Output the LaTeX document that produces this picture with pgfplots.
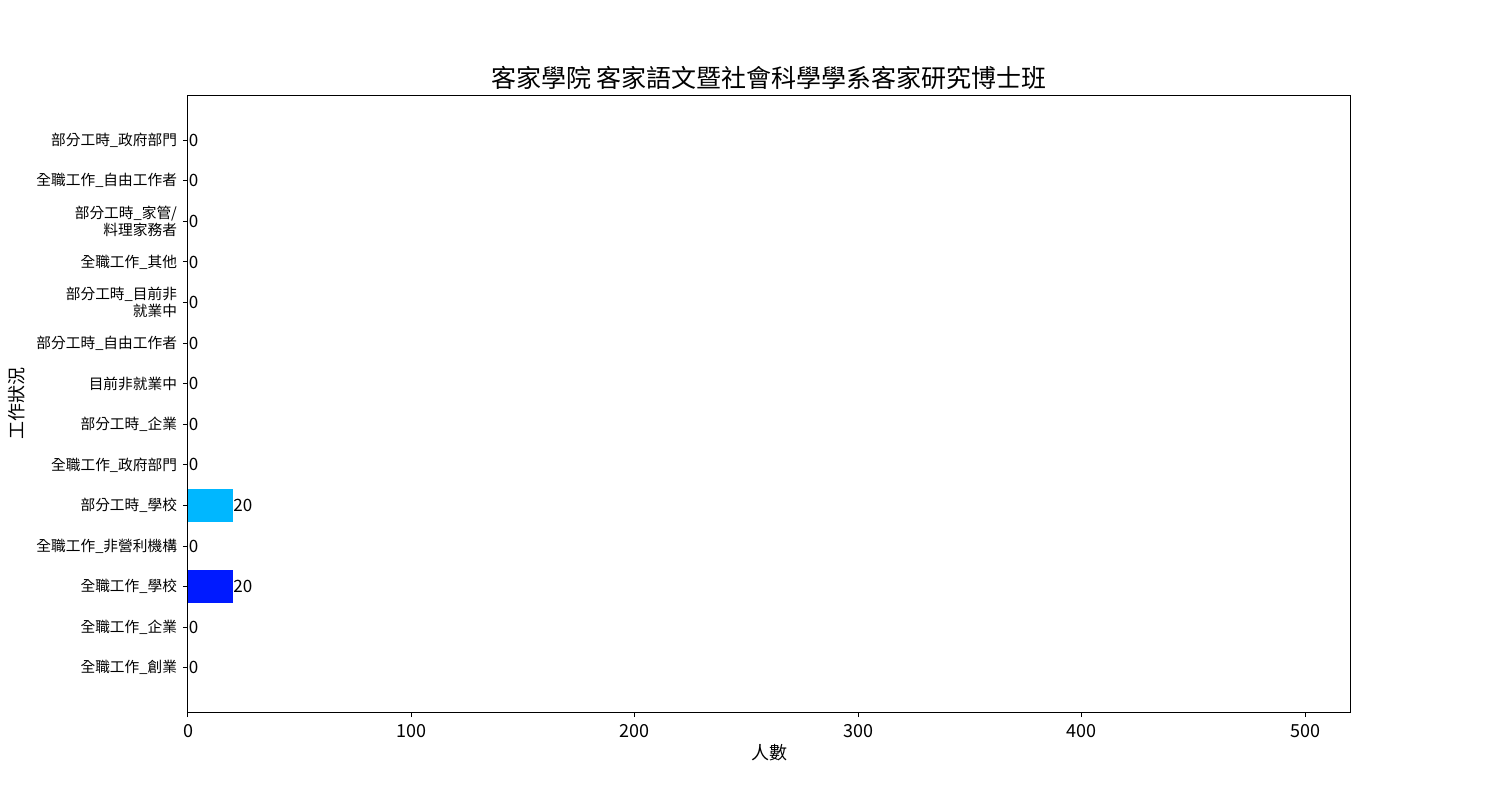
\documentclass[border=0pt]{standalone}
\usepackage{fontspec}
\setmainfont{Noto Sans CJK TC}
\usepackage{pgfplots}
\pgfplotsset{compat=1.18}
\definecolor{darkb}{RGB}{0,26,255}
\definecolor{lightb}{RGB}{0,183,255}
\begin{document}
\begin{tikzpicture}
\useasboundingbox (-94bp,-44bp) rectangle (656bp,356bp);
\begin{axis}[
  scale only axis, width=581bp, height=308bp,
  xbar, bar width=0.8, bar shift=0pt,
  xmin=0, xmax=520, ymin=-1.09, ymax=13+1.09,
  xtick={0,100,200,300,400,500},
  ytick={0,...,13},
  yticklabels={
    全職工作\_創業,
    全職工作\_企業,
    全職工作\_學校,
    全職工作\_非營利機構,
    部分工時\_學校,
    全職工作\_政府部門,
    部分工時\_企業,
    目前非就業中,
    部分工時\_自由工作者,
    {部分工時\_目前非\\就業中},
    全職工作\_其他,
    {部分工時\_家管/\\料理家務者},
    全職工作\_自由工作者,
    部分工時\_政府部門},
  yticklabel style={align=right, font=\fontsize{7.35bp}{8.4bp}\selectfont, inner sep=0pt, xshift=-2.8bp},
  xticklabel style={font=\fontsize{9bp}{10bp}\selectfont},
  /pgf/number format/assume math mode=true,
  tick align=outside, xtick pos=bottom, ytick pos=left,
  major tick length=2.5bp,
  axis line style={line width=0.5bp},
  tick style={line width=0.5bp, black},
  title={客家學院 客家語文暨社會科學學系客家研究博士班},
  title style={at={(axis description cs:0.5,1)}, anchor=center, yshift=3bp, font=\fontsize{12.5bp}{13bp}\selectfont},
  xlabel={人數},
  xlabel style={at={(axis description cs:0.5,0)}, anchor=center, yshift=-20.5bp, font=\fontsize{9bp}{10bp}\selectfont},
  ylabel={工作狀況},
  ylabel style={at={(axis description cs:-0.1472,0.5)}, anchor=center, font=\fontsize{9bp}{10bp}\selectfont},
]
\addplot[fill=darkb, draw=none] coordinates {(20,2)};
\addplot[fill=lightb, draw=none] coordinates {(20,4)};
\addplot[draw=none, fill=none,
  nodes near coords,
  nodes near coords style={anchor=west, inner sep=0.2bp, font=\fontsize{8.5bp}{9bp}\selectfont}]
  coordinates {
  (0,0) (0,1) (20,2) (0,3) (20,4) (0,5) (0,6) (0,7) (0,8) (0,9) (0,10) (0,11) (0,12) (0,13)};
\end{axis}
\end{tikzpicture}
\end{document}
